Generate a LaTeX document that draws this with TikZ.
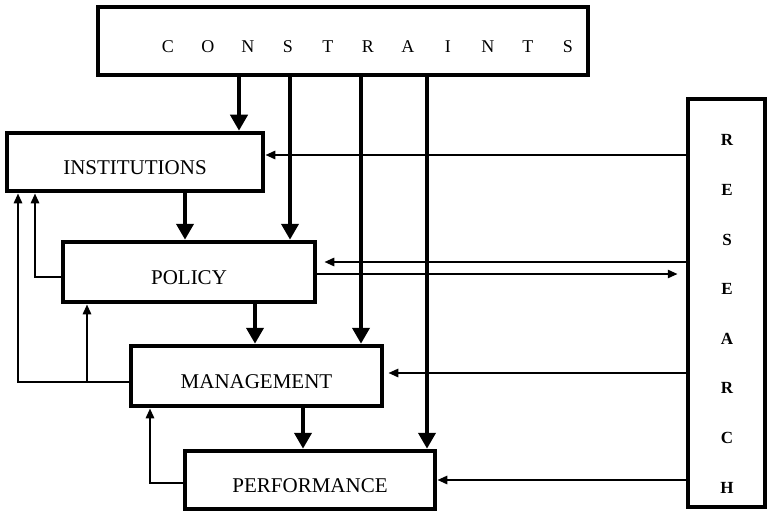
\documentclass[tikz,border=0pt]{standalone}
\usepackage{fontspec}
\setmainfont{Liberation Serif}
\usetikzlibrary{arrows.meta}
\begin{document}
\begin{tikzpicture}[x=1pt,y=-1pt,
  box/.style={draw, line width=4.5pt, inner sep=0pt, font=\fontsize{21}{25}\selectfont, text height=26pt, text depth=2pt},
  bigarrow/.style={line width=4.5pt, -{Triangle[width=17pt,length=16pt]}},
  thinarrow/.style={line width=2.5pt, -{Triangle[width=8pt,length=10pt]}},
  lbl/.style={inner sep=0pt}]
\useasboundingbox (0,0) rectangle (772,519);
% boxes
\node[box, minimum width=490pt, minimum height=68pt] (cons) at (343,41) {};
\node[lbl, font=\fontsize{18}{22}\selectfont] (constext) at (368,47)
  {\makebox[40pt]{C}\makebox[40pt]{O}\makebox[40pt]{N}\makebox[40pt]{S}\makebox[40pt]{T}\makebox[40pt]{R}\makebox[40pt]{A}\makebox[40pt]{I}\makebox[40pt]{N}\makebox[40pt]{T}\makebox[40pt]{S}};
\node[box, minimum width=256pt, minimum height=58pt] (inst) at (135,162) {INSTITUTIONS};
\node[box, minimum width=252pt, minimum height=60pt] (pol) at (189,272) {POLICY};
\node[box, minimum width=251pt, minimum height=60pt] (mgmt) at (256.5,376) {MANAGEMENT};
\node[box, minimum width=250pt, minimum height=58pt] (perf) at (310,480) {PERFORMANCE};
\node[box, minimum width=77pt, minimum height=408pt] (res) at (726.5,303) {};
\node[lbl, align=center, font=\bfseries\fontsize{17}{49.6}\selectfont] (restext) at (727,314)
  {R\\E\\S\\E\\A\\R\\C\\H};
% constraint arrows
\coordinate (x1) at (239,0);
\coordinate (x2) at (290,0);
\coordinate (x3) at (361,0);
\coordinate (x4) at (427,0);
\draw[bigarrow] (x1 |- cons.south) -- (x1 |- inst.north);
\draw[bigarrow] (x2 |- cons.south) -- (x2 |- pol.north);
\draw[bigarrow] (x3 |- cons.south) -- (x3 |- mgmt.north);
\draw[bigarrow] (x4 |- cons.south) -- (x4 |- perf.north);
% main flow
\coordinate (f1) at (185,0);
\coordinate (f2) at (255,0);
\coordinate (f3) at (303,0);
\draw[bigarrow] (f1 |- inst.south) -- (f1 |- pol.north);
\draw[bigarrow] (f2 |- pol.south) -- (f2 |- mgmt.north);
\draw[bigarrow] (f3 |- mgmt.south) -- (f3 |- perf.north);
% research arrows
\coordinate (r1) at (0,155);
\coordinate (r2) at (0,262);
\coordinate (r3) at (0,274);
\coordinate (r4) at (0,373);
\coordinate (r5) at (0,480);
\draw[thinarrow] (res.west |- r1) -- (inst.east |- r1);
\draw[thinarrow, shorten >=7pt] (res.west |- r2) -- (pol.east |- r2);
\draw[thinarrow, shorten >=8pt] (pol.east |- r3) -- (res.west |- r3);
\draw[thinarrow, shorten >=4pt] (res.west |- r4) -- (mgmt.east |- r4);
\draw[thinarrow] (res.west |- r5) -- (perf.east |- r5);
% feedback on the left
\coordinate (l1) at (35,277);
\coordinate (l2) at (18,382);
\coordinate (l3) at (87,382);
\coordinate (l4) at (150,483);
\draw[thinarrow] (pol.west |- l1) -| (l1 |- inst.south);
\draw[thinarrow] (mgmt.west |- l2) -| (l2 |- inst.south);
\draw[thinarrow] (l3) -- (l3 |- pol.south);
\draw[thinarrow] (perf.west |- l4) -| (l4 |- mgmt.south);
\end{tikzpicture}
\end{document}
